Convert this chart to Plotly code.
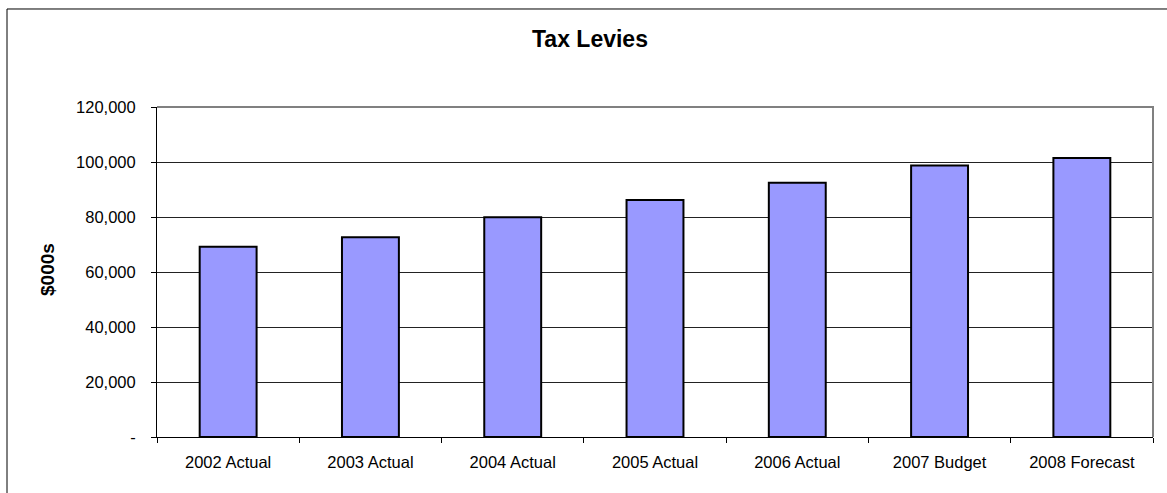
import plotly.graph_objects as go

categories = ["2002 Actual", "2003 Actual", "2004 Actual", "2005 Actual",
              "2006 Actual", "2007 Budget", "2008 Forecast"]
levies = [69200, 72600, 79900, 86200, 92500, 98700, 101500]
y_tickvals = [0, 20000, 40000, 60000, 80000, 100000, 120000]
y_ticktext = ["-", "20,000", "40,000", "60,000", "80,000", "100,000", "120,000"]

FONT = "Liberation Sans, Arial, sans-serif"

fig = go.Figure(go.Bar(
    x=categories, y=levies,
    marker=dict(color="#9999FF", line=dict(color="black", width=2)),
    hoverinfo="x+y",
))

fig.update_layout(
    width=1167, height=493,
    margin=dict(l=157, r=14, t=107, b=56),
    paper_bgcolor="white", plot_bgcolor="white",
    bargap=0.6,
    showlegend=False,
    font=dict(family=FONT, color="black", size=16.5),
    title=dict(text="<b>Tax Levies</b>", x=590 / 1167, xref="container", xanchor="center",
               y=1 - 39 / 493, yref="container", yanchor="middle",
               font=dict(family=FONT, size=23, color="black")),
)

fig.update_xaxes(
    type="category", tickson="boundaries",
    showline=True, linecolor="black", linewidth=1,
    ticks="outside", ticklen=5, tickcolor="black", tickwidth=1,
    showgrid=False, ticklabelstandoff=10,
    tickfont=dict(family=FONT, size=16.5, color="black"),
)
fig.update_yaxes(
    range=[0, 120000], tickvals=y_tickvals, ticktext=y_ticktext,
    showline=True, linecolor="black", linewidth=1,
    ticks="outside", ticklen=5, tickcolor="black", tickwidth=1,
    showgrid=True, gridcolor="#222222", gridwidth=1,
    zeroline=False, ticklabelstandoff=12,
    tickfont=dict(family=FONT, size=16.5, color="black"),
)

# y-axis title
fig.add_annotation(text="<b>$000s</b>", textangle=-90, showarrow=False,
                   xref="paper", yref="paper",
                   x=(47 - 157) / 996, y=(437 - 270) / 330,
                   xanchor="center", yanchor="middle",
                   font=dict(family=FONT, size=19, color="black"))

# gray plot-area frame on top and right
fig.add_shape(type="path", xref="paper", yref="paper",
              path="M 0 1 L 1 1 L 1 0", line=dict(color="#808080", width=2),
              layer="above")
# outer chart border (left and top, running off the page right/bottom)
fig.add_shape(type="path", xref="paper", yref="paper",
              path="M -0.1506 -0.5 L -0.1506 1.297 L 1.05 1.297",
              line=dict(color="black", width=1), layer="above")

fig.write_html("out.html")
